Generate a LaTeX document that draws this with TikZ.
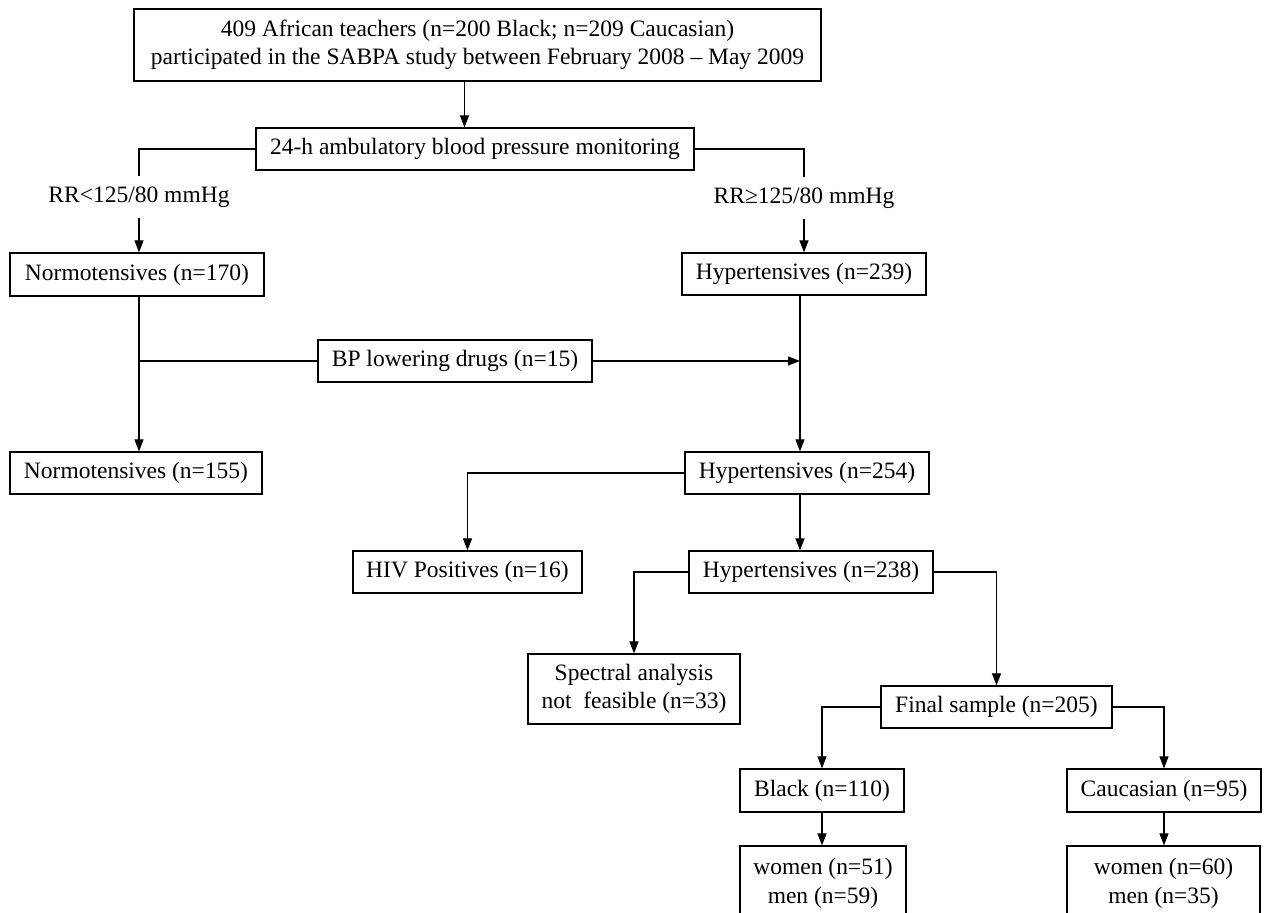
\documentclass[tikz,border=0pt]{standalone}
\usepackage{fontspec}
\setmainfont{Liberation Serif}
\usetikzlibrary{arrows.meta}
\begin{document}
\begin{tikzpicture}[x=1pt,y=-1pt,
  txt/.style={font=\fontsize{23.5}{28.5}\selectfont},
  box/.style={txt, draw, line width=1.2pt, inner sep=0pt, align=center, minimum height=42pt},
  lbl/.style={txt, inner sep=0pt, minimum height=42pt},
  conn/.style={line width=1.1pt},
  arr/.style={conn, -{Triangle[length=12pt,width=9pt]}}]
\useasboundingbox (0,0) rectangle (1264,913);
\fill[white] (0,0) rectangle (1264,913);
\clip (0,0) rectangle (1264,913);
% nodes
\node[box, minimum width=687pt, minimum height=72pt] (top) at (477.5,45)
  {409 African teachers (n=200 Black; n=209 Caucasian)\\participated in the SABPA study between February 2008 – May 2009};
\node[box, minimum width=438pt] (abpm) at (475,149) {24-h ambulatory blood pressure monitoring};
\node[lbl] (rrlow) at (139,197) {RR<125/80 mmHg};
\node[lbl] (rrhigh) at (804,198) {RR≥125/80 mmHg};
\node[box, minimum width=254pt, minimum height=43pt] (n170) at (137,274.5) {Normotensives (n=170)};
\node[box, minimum width=244pt] (h239) at (804,274) {Hypertensives (n=239)};
\node[box, minimum width=274pt] (bp) at (455,361) {BP lowering drugs (n=15)};
\node[box, minimum width=252pt] (n155) at (136,473) {Normotensives (n=155)};
\node[box, minimum width=244pt] (h254) at (807,473) {Hypertensives (n=254)};
\node[box, minimum width=229pt] (hiv) at (467.5,572) {HIV Positives (n=16)};
\node[box, minimum width=244pt] (h238) at (811,572) {Hypertensives (n=238)};
\node[box, minimum width=212pt, minimum height=70pt] (spec) at (634,689) {Spectral analysis\\not\ \ feasible (n=33)};
\node[box, minimum width=231pt] (final) at (996.5,707) {Final sample (n=205)};
\node[box, minimum width=164pt, minimum height=43pt] (black) at (822,790.5) {Black (n=110)};
\node[box, minimum width=194pt, minimum height=43pt] (cauc) at (1164,790.5) {Caucasian (n=95)};
\node[box, minimum width=166pt, minimum height=75pt] (bw) at (823,883.5) {women (n=51)\\men (n=59)};
\node[box, minimum width=193pt, minimum height=75pt] (cw) at (1163.5,883.5) {women (n=60)\\men (n=35)};
% connectors
\draw[arr] ([xshift=-13pt]top.south) -- ([xshift=-13pt]top.south |- abpm.north);
\draw[conn] (abpm.west) -| (rrlow.north);
\draw[arr] (rrlow.south) -- (rrlow.south |- n170.north);
\draw[conn] (abpm.east) -| (rrhigh.north);
\draw[arr] (rrhigh.south) -- (rrhigh.south |- h239.north);
\draw[arr] ([xshift=2pt]n170.south) -- ([xshift=2pt]n170.south |- n155.north);
\draw[conn] (bp.west) -- ([xshift=2pt]bp.west -| n170.south);
\draw[arr] (bp.east) -- ([xshift=-4pt]bp.east -| h239.south);
\draw[arr] ([xshift=-4pt]h239.south) -- ([xshift=-4pt]h239.south |- h254.north);
\draw[arr] (h254.west) -| (hiv.north);
\draw[arr] ([xshift=-4pt]h239.south |- h254.south) -- ([xshift=-4pt]h239.south |- h238.north);
\draw[arr] (h238.west) -| (spec.north);
\draw[arr] (h238.east) -| (final.north);
\draw[arr] (final.west) -| (black.north);
\draw[arr] (final.east) -| (cauc.north);
\draw[arr] (black.south) -- (black.south |- bw.north);
\draw[arr] (cauc.south) -- (cauc.south |- cw.north);
\end{tikzpicture}
\end{document}
